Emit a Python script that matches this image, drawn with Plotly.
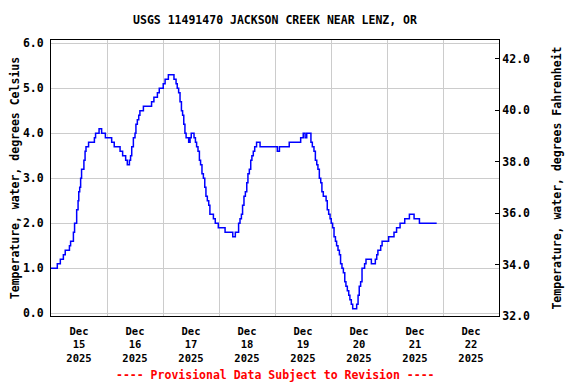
import plotly.graph_objects as go
import pandas as pd

TITLE = "USGS 11491470 JACKSON CREEK NEAR LENZ, OR"
FOOTER = "---- Provisional Data Subject to Revision ----"
Y_LEFT_TITLE = "Temperature, water, degrees Celsius"
Y_RIGHT_TITLE = "Temperature, water, degrees Fahrenheit"

start = pd.Timestamp("2025-12-15 00:00")

# hours after Dec 15 00:00 at which the reading changes (10 per line)
hours = [0.0, 2.7, 4.0, 5.3, 6.1, 7.9, 8.4, 9.6, 10.1, 11.0,
         11.6, 11.9, 12.3, 12.7, 13.1, 14.1, 14.6, 15.0, 16.1, 18.6,
         19.1, 20.6, 21.7, 23.3, 26.0, 27.1, 29.6, 30.7, 32.0, 32.7,
         33.6, 34.1, 34.6, 35.3, 36.0, 36.4, 37.0, 37.6, 38.1, 39.6,
         43.1, 44.1, 45.6, 46.4, 48.1, 48.9, 50.3, 52.7, 53.6, 54.1,
         54.7, 55.3, 55.9, 56.4, 56.9, 57.4, 57.9, 59.0, 59.6, 60.1,
         61.3, 61.9, 62.4, 63.0, 63.6, 64.1, 64.7, 65.3, 65.9, 66.4,
         67.0, 67.6, 68.1, 69.6, 70.4, 71.7, 74.6, 77.9, 79.0, 80.4,
         81.0, 81.6, 82.1, 82.7, 83.3, 83.9, 84.4, 85.0, 85.6, 86.1,
         86.7, 87.3, 88.1, 89.6, 97.0, 97.9, 102.1, 107.0, 108.1, 108.9,
         109.6, 111.4, 112.0, 112.7, 113.3, 113.9, 114.4, 115.0, 115.6, 116.1,
         116.7, 117.9, 118.4, 119.0, 119.6, 120.1, 120.7, 121.3, 121.9, 122.4,
         123.0, 123.6, 124.1, 124.7, 125.3, 125.9, 126.4, 127.0, 127.6, 128.1,
         128.7, 129.3, 131.0, 131.6, 132.1, 132.7, 133.3, 134.4, 135.0, 137.3,
         139.0, 139.6, 140.1, 141.3, 141.9, 144.7, 147.0, 148.1, 149.6, 151.6,
         153.6, 155.6, 157.9, 165.3]

# water temperature, degrees Celsius (same order as hours)
temp_c = [1.0, 1.1, 1.2, 1.3, 1.4, 1.5, 1.6, 1.8, 2.0, 2.3,
          2.5, 2.7, 2.8, 3.0, 3.2, 3.4, 3.6, 3.7, 3.8, 3.9,
          4.0, 4.1, 4.0, 3.9, 3.8, 3.7, 3.6, 3.5, 3.4, 3.3,
          3.4, 3.5, 3.7, 3.9, 4.0, 4.2, 4.3, 4.4, 4.5, 4.6,
          4.7, 4.8, 4.9, 5.0, 5.1, 5.2, 5.3, 5.2, 5.1, 5.0,
          4.9, 4.7, 4.5, 4.4, 4.2, 4.0, 3.9, 3.8, 3.9, 4.0,
          3.9, 3.8, 3.7, 3.6, 3.4, 3.3, 3.1, 3.0, 2.8, 2.6,
          2.5, 2.4, 2.2, 2.1, 2.0, 1.9, 1.8, 1.7, 1.8, 2.0,
          2.1, 2.2, 2.4, 2.6, 2.7, 2.9, 3.1, 3.2, 3.4, 3.5,
          3.6, 3.7, 3.8, 3.7, 3.6, 3.7, 3.8, 3.9, 4.0, 3.9,
          4.0, 3.8, 3.7, 3.6, 3.4, 3.3, 3.2, 3.0, 2.9, 2.7,
          2.6, 2.5, 2.3, 2.2, 2.1, 2.0, 1.9, 1.7, 1.6, 1.5,
          1.4, 1.3, 1.1, 1.0, 0.9, 0.7, 0.6, 0.5, 0.4, 0.3,
          0.2, 0.1, 0.2, 0.4, 0.6, 0.7, 1.0, 1.1, 1.2, 1.1,
          1.2, 1.3, 1.4, 1.5, 1.6, 1.7, 1.8, 1.9, 2.0, 2.1,
          2.2, 2.1, 2.0, 2.0]

y_left_ticks = [0.0, 1.0, 2.0, 3.0, 4.0, 5.0, 6.0]
y_right_ticks = [32.0, 34.0, 36.0, 38.0, 40.0, 42.0]

times = [start + pd.Timedelta(hours=h) for h in hours]
temp_f = [c * 9 / 5 + 32 for c in temp_c]

FONT = "DejaVu Sans Mono"

fig = go.Figure()
fig.add_trace(go.Scatter(x=times, y=temp_c, mode="lines", line_shape="hv",
                         line=dict(color="#0000ff", width=1.5), showlegend=False))
fig.add_trace(go.Scatter(x=times, y=temp_f, mode="lines", yaxis="y2",
                         line=dict(color="rgba(0,0,0,0)", width=0), showlegend=False,
                         hoverinfo="skip"))

# the page body adds an 8px margin, so the figure is sized/offset to compensate
fig.update_layout(
    width=568, height=376,
    margin=dict(l=43, r=77, t=32, b=68, autoexpand=False),
    paper_bgcolor="white", plot_bgcolor="white",
    font=dict(family=FONT, size=11.5, color="black", weight="bold"),
    title=dict(text=TITLE, x=0.5, xref="paper", xanchor="center", y=0.968, yanchor="middle",
               font=dict(family=FONT, size=11.5, color="black", weight="bold")),
    xaxis=dict(
        type="date", automargin=False,
        range=["2025-12-15 00:00", "2025-12-23 00:00"],
        dtick=86400000, tick0="2025-12-15",
        ticklabelmode="period",
        tickformat="%b<br>%d<br>%Y",
        tickfont=dict(size=10.5),
        ticklabelstandoff=5,
        showgrid=True, gridcolor="#cccccc", gridwidth=1,
        showline=True, linecolor="black", linewidth=1, mirror=True,
        ticks="", zeroline=False,
    ),
    yaxis=dict(
        range=[-0.06, 6.073], automargin=False,
        tickvals=y_left_ticks, ticktext=[f"{v:.1f}" for v in y_left_ticks],
        ticklabelstandoff=4,
        showgrid=True, gridcolor="#cccccc", gridwidth=1,
        showline=True, linecolor="black", linewidth=1,
        ticks="", zeroline=False,
        title=dict(text=Y_LEFT_TITLE, standoff=9,
                   font=dict(family=FONT, size=11.5, color="black", weight="bold")),
    ),
    yaxis2=dict(
        overlaying="y", side="right", automargin=False,
        range=[32.0, 42.72],
        tickvals=y_right_ticks, ticktext=[f"{v:.1f}" for v in y_right_ticks],
        showgrid=False, showline=True, linecolor="black", linewidth=1,
        ticks="inside", ticklen=4, tickcolor="black",
        zeroline=False,
        title=dict(text=Y_RIGHT_TITLE, standoff=23,
                   font=dict(family=FONT, size=11.5, color="black", weight="bold")),
    ),
    annotations=[dict(text=FOOTER, xref="paper", yref="paper", x=0.5, y=-0.214,
                      xanchor="center", yanchor="middle", showarrow=False,
                      font=dict(family=FONT, size=11.5, color="#ff0000", weight="bold"))],
)

fig.write_html("out.html")
